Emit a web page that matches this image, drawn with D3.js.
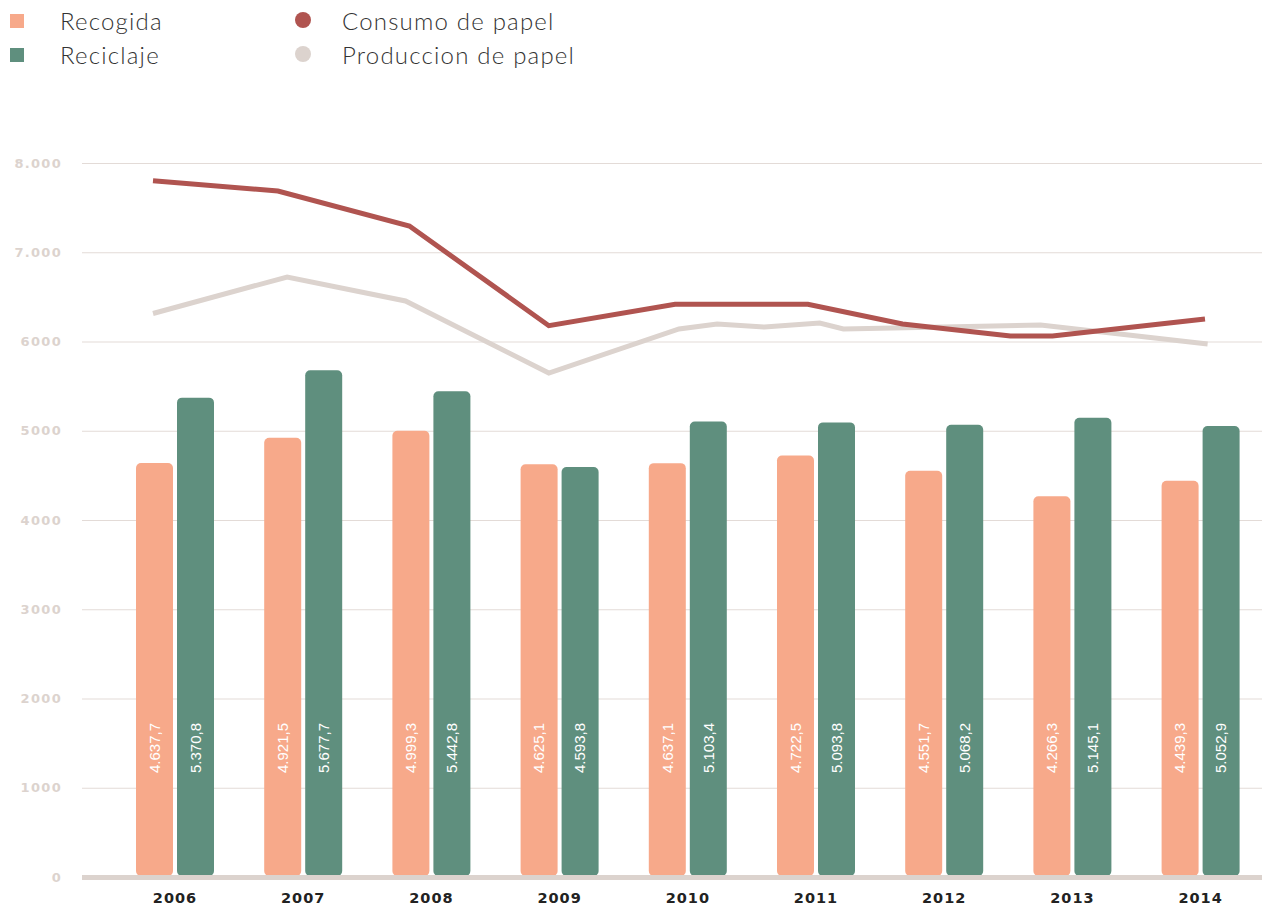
<!DOCTYPE html>
<html>
<head>
<meta charset="utf-8">
<script src="https://cdn.jsdelivr.net/npm/d3@7"></script>
<style>
  body { margin: 0; background: #fff; }
  svg { display: block; }
  .ytick text { font-family: "DejaVu Sans", sans-serif; font-weight: bold; font-size: 13px; fill: #dcd3ce; letter-spacing: 1.3px; }
  .xtick text { font-family: "DejaVu Sans", sans-serif; font-weight: bold; font-size: 14.5px; fill: #222; letter-spacing: 1px; }
  .legend text { font-family: Lato, "Noto Sans", sans-serif; font-weight: 300; font-size: 24px; fill: #333; letter-spacing: 1.2px; }
  .barlabel { font-family: "Liberation Sans", Arial, sans-serif; font-size: 15px; fill: #fff; }
</style>
</head>
<body>
<div id="chart"></div>
<script>
// data
var years = [2006, 2007, 2008, 2009, 2010, 2011, 2012, 2013, 2014];
var recogida = [4637.7, 4921.5, 4999.3, 4625.1, 4637.1, 4722.5, 4551.7, 4266.3, 4439.3];
var reciclaje = [5370.8, 5677.7, 5442.8, 4593.8, 5103.4, 5093.8, 5068.2, 5145.1, 5052.9];

// line series, positions given in years
var consumoX = [2006, 2006.95, 2007.95, 2009.01, 2009.97, 2010.98, 2011.7, 2012.52, 2012.84, 2014];
var consumoVal = [7801, 7686, 7294, 6177, 6417, 6417, 6196, 6062, 6062, 6252];
var produccionX = [2006, 2007.02, 2007.92, 2009.01, 2010, 2010.29, 2010.65, 2011.07, 2011.25, 2012.75, 2014.02];
var produccionVal = [6314, 6723, 6454, 5647, 6140, 6196, 6162, 6207, 6140, 6185, 5972];

var yTicks = [0, 1000, 2000, 3000, 4000, 5000, 6000, 7000, 8000];
var yTickLabels = ["0", "1000", "2000", "3000", "4000", "5000", "6000", "7.000", "8.000"];

var seriesNames = ["Recogida", "Reciclaje"];
var lineNames = ["Consumo de papel", "Produccion de papel"];

var colors = {
    recogida: "#f7a98a",
    reciclaje: "#5f8f7e",
    consumo: "#b05450",
    produccion: "#dcd3ce",
    grid: "#e3dbd7"
};

var W = 1262, H = 906;
var svg = d3.select("#chart").append("svg")
    .attr("width", W)
    .attr("height", H);

var y = d3.scaleLinear().domain([0, 8000]).range([877, 163]);

var x = d3.scaleBand()
    .domain(years)
    .range([175 - 64.1, 1200.6 + 64.1])
    .padding(0);

var x1 = d3.scaleBand()
    .domain([0, 1])
    .range([-39, 39])
    .paddingInner(0.0976);

var xl = d3.scaleLinear().domain([2006, 2014]).range([153, 1205]);

// grid lines
var grid = svg.append("g")
    .attr("transform", "translate(82,0)")
    .call(d3.axisRight(y).tickValues(yTicks.slice(1)).tickSize(W - 82).tickFormat(""));
grid.select(".domain").remove();
grid.selectAll("line").attr("stroke", colors.grid).attr("stroke-width", 1);

// y axis labels
var yAxis = svg.append("g")
    .attr("class", "ytick")
    .attr("transform", "translate(62,0)")
    .call(d3.axisLeft(y).tickValues(yTicks).tickSize(0).tickPadding(0)
        .tickFormat(function(d, i) { return yTickLabels[i]; }));
yAxis.select(".domain").remove();

// bars
var fmt = d3.formatLocale({decimal: ",", thousands: ".", grouping: [3], currency: ["", ""]}).format(",.1f");

var groups = svg.selectAll(".year")
    .data(years)
    .enter()
  .append("g")
    .attr("class", "year")
    .attr("transform", function(d) { return "translate(" + (x(d) + x.bandwidth() / 2) + ",0)"; });

[recogida, reciclaje].forEach(function(vals, k) {
    var col = k === 0 ? colors.recogida : colors.reciclaje;
    groups.append("rect")
        .attr("x", x1(k))
        .attr("width", x1.bandwidth())
        .attr("y", function(d, i) { return y(vals[i]); })
        .attr("height", function(d, i) { return y(0) - 1 - y(vals[i]); })
        .attr("rx", 5)
        .attr("fill", col);

    groups.append("text")
        .attr("class", "barlabel")
        .attr("transform", "translate(" + (x1(k) + x1.bandwidth() / 2) + ",748) rotate(-90)")
        .attr("text-anchor", "middle")
        .attr("dy", "0.35em")
        .text(function(d, i) { return fmt(vals[i]); });
});

// baseline
svg.append("line")
    .attr("x1", 82).attr("x2", W)
    .attr("y1", y(0) + 0.5).attr("y2", y(0) + 0.5)
    .attr("stroke", "#dcd3ce")
    .attr("stroke-width", 5);

// x axis
var xAxis = svg.append("g")
    .attr("class", "xtick")
    .attr("transform", "translate(0,880)")
    .call(d3.axisBottom(x).tickSize(0).tickPadding(13));
xAxis.select(".domain").remove();

// lines
var line = d3.line()
    .x(function(d) { return xl(d[0]); })
    .y(function(d) { return y(d[1]); });

svg.append("path")
    .datum(d3.zip(produccionX, produccionVal))
    .attr("fill", "none")
    .attr("stroke", colors.produccion)
    .attr("stroke-width", 5)
    .attr("d", line);

svg.append("path")
    .datum(d3.zip(consumoX, consumoVal))
    .attr("fill", "none")
    .attr("stroke", colors.consumo)
    .attr("stroke-width", 5)
    .attr("d", line);

// legend
var legend = svg.append("g").attr("class", "legend");

seriesNames.forEach(function(name, i) {
    legend.append("rect")
        .attr("x", 10).attr("y", 14 + i * 34)
        .attr("width", 14).attr("height", 14)
        .attr("fill", i === 0 ? colors.recogida : colors.reciclaje);
    legend.append("text")
        .attr("x", 60).attr("y", 30 + i * 34)
        .text(name);
});

lineNames.forEach(function(name, i) {
    legend.append("circle")
        .attr("cx", 303).attr("cy", 20 + i * 34)
        .attr("r", 8)
        .attr("fill", i === 0 ? colors.consumo : colors.produccion);
    legend.append("text")
        .attr("x", 342).attr("y", 30 + i * 34)
        .text(name);
});
</script>
</body>
</html>
